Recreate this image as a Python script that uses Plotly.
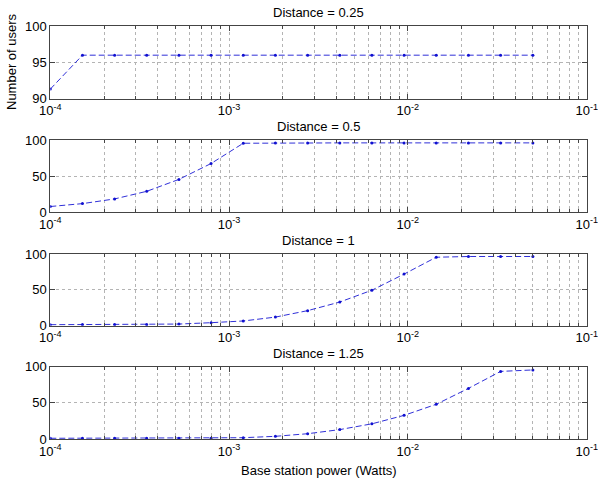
import plotly.graph_objects as go

power = [1.0e-4, 1.513e-4, 2.29e-4, 3.46e-4, 5.24e-4, 7.93e-4, 1.20e-3, 1.815e-3,
         2.75e-3, 4.16e-3, 6.29e-3, 9.52e-3, 1.44e-2, 2.18e-2, 3.30e-2, 5.0e-2]

users_d025 = [91.3, 96, 96, 96, 96, 96, 96, 96, 96, 96, 96, 96, 96, 96, 96, 96]
users_d05 = [8, 12, 18.5, 29, 45.5, 67.5, 95.5, 96, 96, 96, 96, 96, 96, 96, 96, 96]
users_d1 = [1.4, 1.5, 1.5, 1.5, 2.3, 4.2, 6.6, 12, 21, 33, 49.5, 72, 95.5, 96.5, 96.5, 96.5]
users_d125 = [1, 1, 1, 1, 1, 1, 1.8, 3.7, 7.3, 13, 21, 32.7, 48, 70, 93.5, 95.5]

titles = ["Distance = 0.25", "Distance = 0.5", "Distance = 1", "Distance = 1.25"]
series = [users_d025, users_d05, users_d1, users_d125]
yranges = [[90, 100], [0, 100], [0, 100], [0, 100]]
yticks = [[90, 95, 100], [0, 50, 100], [0, 50, 100], [0, 50, 100]]

xticks = [1e-4, 1e-3, 1e-2, 1e-1]
xticktext = ["10<sup>-4</sup>", "10<sup>-3</sup>", "10<sup>-2</sup>", "10<sup>-1</sup>"]
minor_vals = [m * 10.0 ** e for e in (-4, -3, -2) for m in range(2, 10)]

W, H = 598, 483
# pixel boxes (top, bottom)
boxes = [(26.3, 98.5), (140, 212.3), (254, 325.7), (366.7, 439)]
xl, xr = 50.3, 586.7

FONT = "Liberation Sans, Arial, Helvetica, sans-serif"
GRID = "#b4b4b4"
fig = go.Figure()
for i, (ys, t) in enumerate(zip(series, titles)):
    n = "" if i == 0 else str(i + 1)
    fig.add_trace(go.Scatter(
        x=power, y=ys, mode="lines+markers",
        line=dict(color="#3030d8", width=1, dash="6px,3px"),
        marker=dict(color="#1010d0", size=3),
        xaxis="x" + n, yaxis="y" + n, showlegend=False, cliponaxis=True))
    top, bot = boxes[i]
    fig.update_layout(**{
        "xaxis" + n: dict(
            type="log", range=[-4, -1], domain=[xl / W, xr / W],
            anchor="y" + n, tickvals=xticks, ticktext=xticktext,
            ticks="inside", ticklen=5, tickcolor="#444",
            showline=True, linecolor="#444", linewidth=1, mirror="ticks",
            showgrid=True, gridcolor=GRID, griddash="dot", gridwidth=1,
            minor=dict(tickvals=minor_vals, ticks="inside", ticklen=3,
                       tickcolor="#444", showgrid=True, gridcolor=GRID,
                       griddash="dot", gridwidth=1),
            zeroline=False, automargin=False,
            tickfont=dict(size=13, color="#000", family=FONT),
        ),
        "yaxis" + n: dict(
            range=yranges[i], domain=[1 - bot / H, 1 - top / H],
            anchor="x" + n, tickvals=yticks[i],
            ticks="inside", ticklen=5, tickcolor="#444",
            showline=True, linecolor="#444", linewidth=1, mirror="ticks",
            showgrid=True, gridcolor=GRID, griddash="dot", gridwidth=1,
            zeroline=False, automargin=False,
            tickfont=dict(size=13, color="#000", family=FONT),
        ),
    })
    fig.add_annotation(text=t, x=(xl + xr) / 2 / W, y=1 - (top - 4) / H,
                       xref="paper", yref="paper", xanchor="center", yanchor="bottom",
                       showarrow=False, font=dict(size=13, color="#000", family=FONT))

fig.add_annotation(text="Number of users", x=12 / W, y=1 - 62 / H, textangle=-90,
                   xref="paper", yref="paper", xanchor="center", yanchor="middle",
                   showarrow=False, font=dict(size=13, color="#000", family=FONT))
fig.add_annotation(text="Base station power (Watts)", x=(xl + xr) / 2 / W, y=1 - 470 / H,
                   xref="paper", yref="paper", xanchor="center", yanchor="middle",
                   showarrow=False, font=dict(size=13, color="#000", family=FONT))

fig.update_layout(
    width=W, height=H, margin=dict(l=0, r=0, t=0, b=0),
    paper_bgcolor="white", plot_bgcolor="white",
    font=dict(family=FONT, color="#000"),
)
fig.write_html("out.html")
